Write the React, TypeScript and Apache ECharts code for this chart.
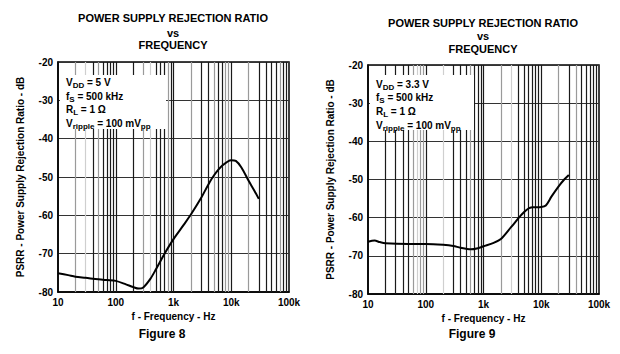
import React, { useEffect, useRef } from "react";
import * as echarts from "echarts";

// Figure 8 (VDD = 5 V)
const FREQ_8 = [10, 15, 20, 30, 50, 70, 100, 150, 200, 250, 300, 400, 500, 700, 1000, 1500, 2000, 3000, 4000, 5000, 7000, 10000, 12000, 15000, 20000, 25000, 30000];
const PSRR_8 = [-75.1, -75.6, -76.0, -76.3, -76.7, -76.9, -77.1, -78.0, -78.7, -79.1, -78.8, -76.5, -74.0, -70.0, -66.2, -62.5, -59.8, -55.5, -52.0, -49.6, -47.0, -45.6, -45.8, -47.5, -51.0, -53.5, -55.7];

// Figure 9 (VDD = 3.3 V)
const FREQ_9 = [10, 13, 16, 20, 50, 100, 200, 300, 400, 600, 800, 1000, 1500, 2000, 3000, 4000, 5000, 6000, 7000, 10000, 12000, 15000, 20000, 25000, 30000];
const PSRR_9 = [-66.3, -66.0, -66.4, -66.7, -66.9, -66.9, -67.1, -67.4, -67.9, -68.3, -68.0, -67.5, -66.6, -65.6, -62.5, -60.2, -58.6, -57.6, -57.3, -57.2, -56.8, -54.5, -51.8, -50.0, -48.8];

const X_TICK_VALUES = [10, 100, 1000, 10000, 100000];
const X_TICK_LABELS = ["10", "100", "1k", "10k", "100k"];
const Y_MIN = -80;
const Y_MAX = -20;
const Y_STEP = 10;

const TITLE_LINES = ["POWER SUPPLY REJECTION RATIO", "vs", "FREQUENCY"];
const X_NAME = "f - Frequency - Hz";
const Y_NAME = "PSRR - Power Supply Rejection Ratio - dB";
const CAPTIONS = ["Figure 8", "Figure 9"];
const COND_8 = ["{m|V}{s|DD}{m| = 5 V}", "{m|f}{s|S}{m| = 500 kHz}", "{m|R}{s|L}{m| = 1 Ω}", "{m|V}{s|ripple}{m| = 100 mV}{s|pp}"];
const COND_9 = ["{m|V}{s|DD}{m| = 3.3 V}", "{m|f}{s|S}{m| = 500 kHz}", "{m|R}{s|L}{m| = 1 Ω}", "{m|V}{s|ripple}{m| = 100 mV}{s|pp}"];

// Appearance of vertical grid lines (scan shading), multipliers 2..9 per decade
const SHADE_8 = ["gldgdddd", "dgldddgd", "gddgddgg", "gddddgdd"];
const SHADE_9 = ["ddddglgg", "ldddgddd", "gldddddd", "gdgddddd"];
const SHADE_COLORS: Record<string, string> = { d: "#1a1a1a", g: "#9a9a9a", l: "#cfcfcf" };

const FONT = '"Liberation Sans", Arial, sans-serif';

function gridLines(shade: string[]) {
  const out: any[] = [];
  for (let d = 0; d < 4; d++) {
    const base = X_TICK_VALUES[d];
    if (d > 0) out.push({ xAxis: base, lineStyle: { color: "#1a1a1a", width: 1.2, type: "solid" } });
    for (let m = 2; m <= 9; m++) {
      const c = SHADE_COLORS[shade[d][m - 2]] || "#1a1a1a";
      out.push({ xAxis: base * m, lineStyle: { color: c, width: 1.2, type: "solid" } });
    }
  }
  return out;
}

export default function App() {
  const ref = useRef<HTMLDivElement>(null);
  useEffect(() => {
    if (!ref.current) return;
    const chart = echarts.init(ref.current, undefined, { renderer: "svg" });
    const grids = [
      { left: 58, top: 62, width: 231, height: 230 },
      { left: 368, top: 65, width: 231, height: 229 },
    ];
    const xAxis = grids.map((_, i) => ({
      type: "log",
      logBase: 10,
      gridIndex: i,
      min: X_TICK_VALUES[0],
      max: X_TICK_VALUES[X_TICK_VALUES.length - 1],
      name: X_NAME,
      nameLocation: "middle",
      nameGap: 17,
      nameTextStyle: { fontFamily: FONT, fontWeight: "bold", fontSize: 10, color: "#000" },
      axisLine: { show: true, lineStyle: { color: "#000", width: 1.5 } },
      axisTick: { show: false },
      splitLine: { show: false },
      minorSplitLine: { show: false },
      axisLabel: {
        margin: 5,
        fontFamily: FONT,
        fontWeight: "bold",
        fontSize: 10,
        color: "#000",
        formatter: (v: number) => {
          const idx = X_TICK_VALUES.findIndex((t) => Math.abs(Math.log10(t) - Math.log10(v)) < 1e-6);
          return idx >= 0 ? X_TICK_LABELS[idx] : "";
        },
      },
    }));
    const yAxis = grids.map((_, i) => ({
      type: "value",
      gridIndex: i,
      min: Y_MIN,
      max: Y_MAX,
      interval: Y_STEP,
      name: Y_NAME,
      nameLocation: "middle",
      nameRotate: 90,
      nameGap: 33,
      nameTextStyle: { fontFamily: FONT, fontWeight: "bold", fontSize: 10, color: "#000" },
      axisLine: { show: true, lineStyle: { color: "#000", width: 1.5 } },
      axisTick: { show: false },
      splitLine: { show: true, lineStyle: { color: "#333", width: 1.2 } },
      axisLabel: { margin: 5, fontFamily: FONT, fontWeight: "bold", fontSize: 10, color: "#000" },
    }));
    const mkSeries = (i: number, freq: number[], vals: number[], shade: string[]) => [
      {
        type: "line",
        xAxisIndex: i,
        yAxisIndex: i,
        data: [],
        silent: true,
        z: 1,
        markLine: {
          silent: true,
          symbol: ["none", "none"],
          label: { show: false },
          animation: false,
          data: gridLines(shade),
        },
      },
      {
        type: "line",
        xAxisIndex: i,
        yAxisIndex: i,
        data: freq.map((f, k) => [f, vals[k]]),
        showSymbol: false,
        symbol: "none",
        smooth: 0.3,
        z: 5,
        lineStyle: { color: "#000", width: 2 },
      },
    ];
    const centers = [173, 483];
    const titleY = [[18, 33, 45], [23, 36, 49]];
    const capY = [334, 334];
    const graphic: any[] = [];
    centers.forEach((cx, i) => {
      TITLE_LINES.forEach((t, k) => {
        graphic.push({
          type: "text",
          x: cx,
          y: titleY[i][k],
          style: { text: t, fontFamily: FONT, fontWeight: "bold", fontSize: 11, fill: "#000", textAlign: "center", textVerticalAlign: "middle" },
        });
      });
      graphic.push({
        type: "text",
        x: cx - 11,
        y: capY[i],
        style: { text: CAPTIONS[i], fontFamily: FONT, fontWeight: "bold", fontSize: 12, fill: "#000", textAlign: "center", textVerticalAlign: "middle" },
      });
    });
    const boxes = [
      { x: 60, y: 75, w: 106, h: 54, rows: COND_8, ty: [82, 96, 109, 123] },
      { x: 370, y: 75, w: 104, h: 55, rows: COND_9, ty: [84, 97, 111, 125] },
    ];
    boxes.forEach((b) => {
      graphic.push({ type: "rect", shape: { x: b.x, y: b.y, width: b.w, height: b.h }, style: { fill: "#fff" }, z: 10 });
      b.rows.forEach((r, k) => {
        graphic.push({
          type: "text",
          x: b.x + 6,
          y: b.ty[k],
          z: 11,
          style: {
            text: r,
            fill: "#000",
            textVerticalAlign: "middle",
            rich: {
              m: { fontFamily: FONT, fontWeight: "bold", fontSize: 10, fill: "#000" },
              s: { fontFamily: FONT, fontWeight: "bold", fontSize: 8, fill: "#000", padding: [6, 0, 0, 0] },
            },
          },
        });
      });
    });
    chart.setOption({
      animation: false,
      backgroundColor: "#fff",
      grid: grids.map((g) => ({ ...g, show: true, borderColor: "#000", borderWidth: 1.5, backgroundColor: "transparent" })),
      xAxis,
      yAxis,
      series: [...mkSeries(0, FREQ_8, PSRR_8, SHADE_8), ...mkSeries(1, FREQ_9, PSRR_9, SHADE_9)],
      graphic,
    });
    return () => chart.dispose();
  }, []);
  return <div ref={ref} style={{ position: "fixed", left: 0, top: 0, width: 620, height: 354, background: "#fff" }} />;
}
